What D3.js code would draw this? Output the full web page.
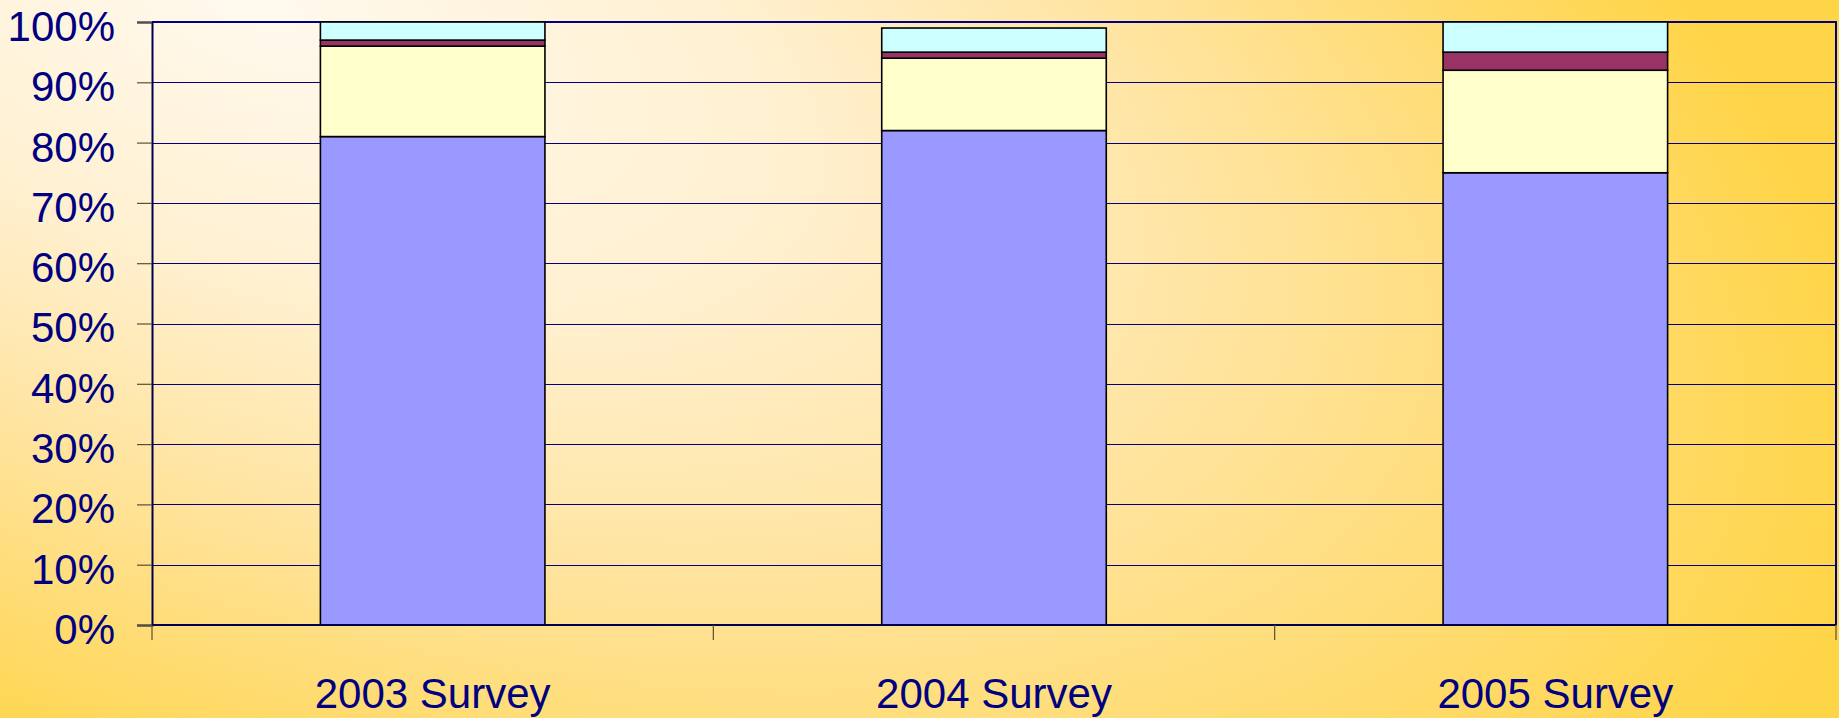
<!DOCTYPE html>
<html>
<head>
<meta charset="utf-8">
<script src="https://cdn.jsdelivr.net/npm/d3@7/dist/d3.min.js"></script>
<style>
  html, body { margin: 0; padding: 0; background: #FFE9A8; }
  svg { display: block; }
  text { font-family: "Liberation Sans", Arial, sans-serif; fill: #000080; }
</style>
</head>
<body>
<svg id="chart" width="1839" height="718"></svg>
<script>
// Survey categories and the four stacked shares (percent), bottom to top
const categories = ["2003 Survey", "2004 Survey", "2005 Survey"];
const seriesNames = ["s1", "s2", "s3", "s4"];
const s1Values = [81, 82, 75];
const s2Values = [15, 12, 17];
const s3Values = [1, 1, 3];
const s4Values = [3, 4, 5];
const seriesColors = ["#9999FF", "#FFFFCC", "#993366", "#CCFFFF"];
const yTicks = [0, 10, 20, 30, 40, 50, 60, 70, 80, 90, 100];

const W = 1839, H = 718;
const plot = { left: 152, right: 1836, top: 22, bottom: 625 };

const svg = d3.select("#chart");

// Background: tilted elliptical cream glow from the upper left fading to gold
const defs = svg.append("defs");
const grad = defs.append("radialGradient")
  .attr("id", "bg")
  .attr("gradientUnits", "userSpaceOnUse")
  .attr("cx", 0).attr("cy", 0).attr("r", 1)
  .attr("gradientTransform", "translate(250,0) rotate(20) scale(1700,800)");
[[0, "#FFF9EE"], [0.33, "#FFF0D0"], [0.58, "#FFE5A4"], [0.8, "#FFDC74"], [1, "#FFD548"]]
  .forEach(([o, c]) => grad.append("stop").attr("offset", o).attr("stop-color", c));
svg.append("rect").attr("width", W).attr("height", H).attr("fill", "url(#bg)");

// Rows for stacking
const rows = categories.map((c, i) => ({
  category: c, s1: s1Values[i], s2: s2Values[i], s3: s3Values[i], s4: s4Values[i]
}));
const stacked = d3.stack().keys(seriesNames)(rows);

const x = d3.scaleBand().domain(categories)
  .range([plot.left, plot.right]).paddingInner(0.6).paddingOuter(0.3);
const y = d3.scaleLinear().domain([0, 100]).range([plot.bottom, plot.top]);

// Horizontal gridlines
svg.append("g").selectAll("line").data(yTicks).join("line")
  .attr("x1", plot.left).attr("x2", plot.right)
  .attr("y1", d => Math.round(y(d)) + 0.5).attr("y2", d => Math.round(y(d)) + 0.5)
  .attr("stroke", "#000080").attr("stroke-width", 1);

// Plot area border (top and right)
svg.append("path")
  .attr("d", `M${plot.left},${plot.top}H${plot.right}V${plot.bottom}`)
  .attr("fill", "none").attr("stroke", "#000080").attr("stroke-width", 2);

// Stacked bars
svg.append("g").selectAll("g").data(stacked).join("g")
  .attr("fill", (d, i) => seriesColors[i])
  .selectAll("rect").data(d => d).join("rect")
  .attr("x", d => x(d.data.category))
  .attr("width", x.bandwidth())
  .attr("y", d => y(d[1]))
  .attr("height", d => y(d[0]) - y(d[1]))
  .attr("stroke", "#000").attr("stroke-width", 1.6);

// Y axis
const yAxis = d3.axisLeft(y).tickValues(yTicks).tickFormat(d => d + "%")
  .tickSize(15).tickPadding(22);
const gy = svg.append("g").attr("transform", `translate(${plot.left},0)`).call(yAxis);
gy.select(".domain").attr("stroke", "#000050").attr("stroke-width", 2);
gy.selectAll(".tick line").attr("stroke", "#5a5030").attr("stroke-width", 1.2);
gy.selectAll(".tick text")
  .attr("y", 5)
  .attr("font-size", 42).attr("fill", "#000080")
  .attr("font-family", "'Liberation Sans', Arial, sans-serif");

// X axis with tick marks at category boundaries
svg.append("line")
  .attr("x1", plot.left).attr("x2", plot.right)
  .attr("y1", plot.bottom).attr("y2", plot.bottom)
  .attr("stroke", "#000050").attr("stroke-width", 2);
const boundaries = d3.range(categories.length + 1)
  .map(i => plot.left + i * (plot.right - plot.left) / categories.length);
svg.append("g").selectAll("line").data(boundaries).join("line")
  .attr("x1", d => d).attr("x2", d => d)
  .attr("y1", plot.bottom).attr("y2", plot.bottom + 15)
  .attr("stroke", "#5a5030").attr("stroke-width", 1.2);

svg.append("g").selectAll("text").data(categories).join("text")
  .attr("x", d => x(d) + x.bandwidth() / 2)
  .attr("y", 708)
  .attr("text-anchor", "middle")
  .attr("font-size", 42)
  .text(d => d);
</script>
</body>
</html>
